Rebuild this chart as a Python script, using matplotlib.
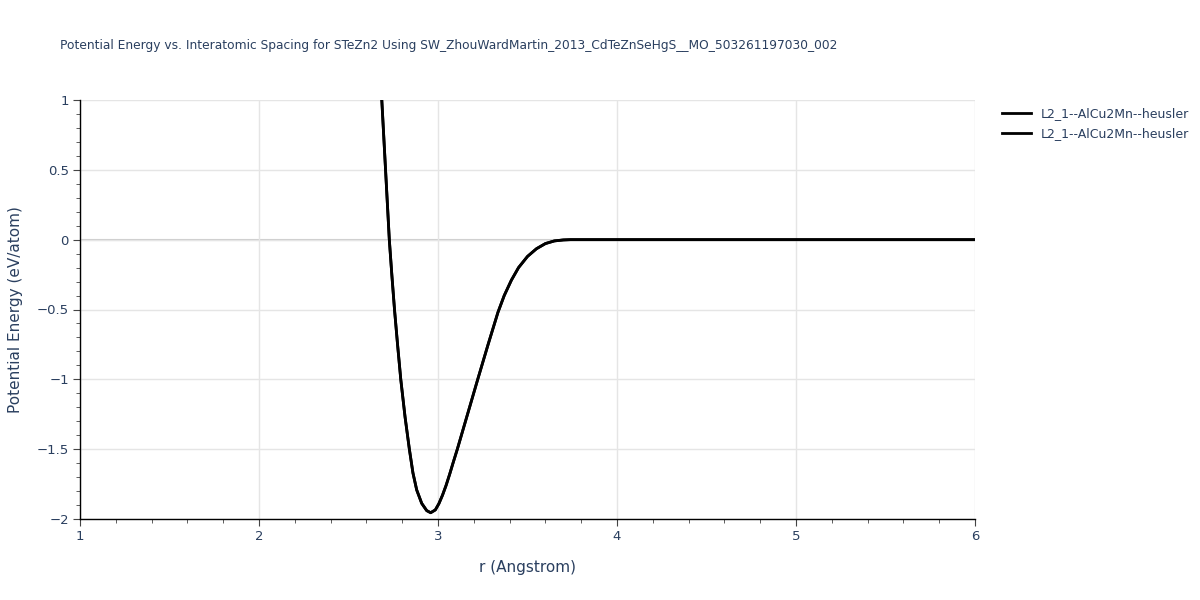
import matplotlib.pyplot as plt
from matplotlib.ticker import MultipleLocator

# Values
r = [2.686, 2.707, 2.728, 2.742, 2.757, 2.774, 2.792, 2.816, 2.840, 2.860,
     2.881, 2.909, 2.937, 2.959, 2.985, 3.005, 3.025, 3.045, 3.065, 3.085,
     3.108, 3.165, 3.222, 3.280, 3.335, 3.370, 3.410, 3.450, 3.500, 3.550,
     3.600, 3.650, 3.700, 3.740, 4.000, 5.000, 6.000]
energy = [1.00, 0.50, 0.00, -0.25, -0.50, -0.75, -1.00, -1.27, -1.50, -1.67,
          -1.792, -1.888, -1.94, -1.955, -1.935, -1.89, -1.83, -1.76, -1.68, -1.595,
          -1.50, -1.25, -1.00, -0.75, -0.52, -0.40, -0.29, -0.20, -0.12, -0.065,
          -0.028, -0.009, -0.002, 0.0, 0.0, 0.0, 0.0]
series_names = ["L2_1--AlCu2Mn--heusler", "L2_1--AlCu2Mn--heusler"]

title = ("Potential Energy vs. Interatomic Spacing for STeZn2 Using "
         "SW_ZhouWardMartin_2013_CdTeZnSeHgS__MO_503261197030_002")

text_color = "#2a3f5f"
grid_color = "#e5e5e5"

fig = plt.figure(figsize=(12, 6), dpi=100)
ax = fig.add_axes([80 / 1200, 1 - 519 / 600, 895 / 1200, 419 / 600])

for name in series_names:
    ax.plot(r, energy, color="black", lw=2, label=name, zorder=3)

ax.set_xlim(1, 6)
ax.set_ylim(-2, 1)
ax.xaxis.set_major_locator(MultipleLocator(1))
ax.xaxis.set_minor_locator(MultipleLocator(0.2))
ax.yaxis.set_major_locator(MultipleLocator(0.5))
ax.yaxis.set_minor_locator(MultipleLocator(0.1))
ax.yaxis.set_major_formatter(plt.FuncFormatter(
    lambda v, p: ("%g" % v).replace("-", "\u2212")))

ax.grid(True, which="major", color=grid_color, lw=1, zorder=0)
ax.axhline(0, color="#cccccc", lw=1.5, zorder=1)

for s in ["top", "right"]:
    ax.spines[s].set_visible(False)
for s in ["left", "bottom"]:
    ax.spines[s].set_color("black")
    ax.spines[s].set_linewidth(1)

ax.tick_params(which="major", direction="out", length=5, color="#444444",
               labelcolor=text_color, labelsize=9.5, pad=3)
ax.tick_params(which="minor", direction="out", length=3, color="#444444")

ax.set_xlabel("r (Angstrom)", color=text_color, fontsize=11, labelpad=12)
ax.set_ylabel("Potential Energy (eV/atom)", color=text_color, fontsize=11,
              labelpad=10)

fig.text(60 / 1200, 1 - 46 / 600, title, color=text_color, fontsize=8.8,
         va="center", ha="left")

leg = ax.legend(loc="upper left", bbox_to_anchor=(1.025, 0.995), frameon=False,
                fontsize=9, handlelength=2.3, labelspacing=0.55,
                borderaxespad=0)
for t in leg.get_texts():
    t.set_color(text_color)

fig.savefig("out.png", dpi=100)
